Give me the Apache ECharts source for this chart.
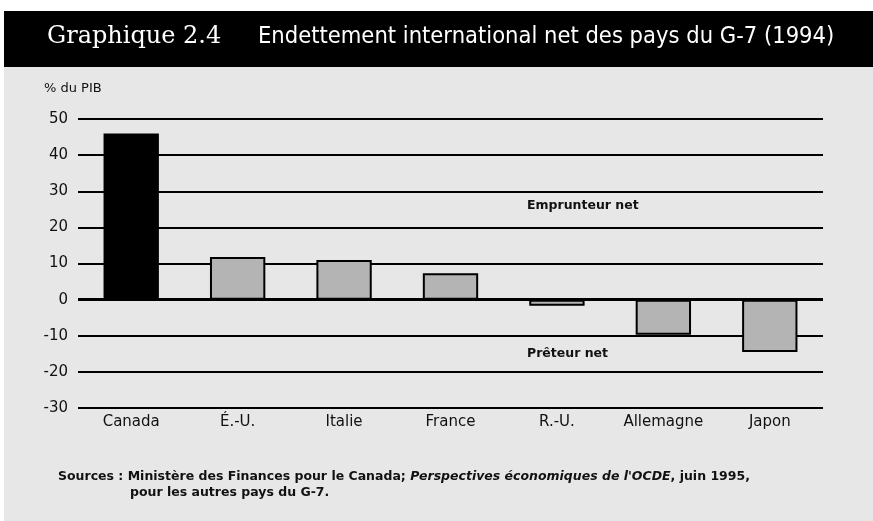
<!DOCTYPE html>
<html>
<head>
<meta charset="utf-8">
<script src="https://cdn.jsdelivr.net/npm/echarts@6/dist/echarts.min.js"></script>
<style>
  html, body { margin: 0; padding: 0; background: #fff; }
  #chart { width: 873px; height: 521px; }
</style>
</head>
<body>
<div id="chart"></div>
<script>
var pays = ['Canada', 'É.-U.', 'Italie', 'France', 'R.-U.', 'Allemagne', 'Japon'];
var endettement = [46, 11.8, 11, 7.3, -1.7, -9.7, -14.5];
var yMin = -30, yMax = 50, yPas = 10;

var myChart = echarts.init(document.getElementById('chart'));

var barres = endettement.map(function (v, i) {
    return {
        value: v,
        itemStyle: { color: i === 0 ? '#000' : '#b4b4b4' }
    };
});

var petit = 'bold 12.5px "DejaVu Sans", sans-serif';

var option = {
    animation: false,
    backgroundColor: '#fff',
    graphic: [
        { type: 'rect', z: -10, shape: { x: 4, y: 11, width: 869, height: 510 }, style: { fill: '#e7e7e7' } },
        { type: 'rect', z: -5, shape: { x: 4, y: 11, width: 869, height: 56 }, style: { fill: '#000' } },
        { type: 'text', left: 47, top: 25, style: { text: 'Graphique 2.4', fill: '#fff', font: '24px "DejaVu Serif", serif' } },
        { type: 'text', left: 258, top: 25, style: { text: 'Endettement international net des pays du G-7 (1994)', fill: '#fff', font: '23.5px "DejaVu Sans Condensed", sans-serif' } },
        { type: 'text', left: 44, top: 82, style: { text: '% du PIB', fill: '#111', font: '13px "DejaVu Sans", sans-serif' } },
        { type: 'text', left: 527, top: 199, style: { text: 'Emprunteur net', fill: '#111', font: petit } },
        { type: 'text', left: 527, top: 347, style: { text: 'Prêteur net', fill: '#111', font: petit } },
        { type: 'text', left: 58, top: 470, style: {
            text: "{n|Sources : Ministère des Finances pour le Canada; }{i|Perspectives économiques de l'OCDE}{n|, juin 1995,}",
            rich: {
                n: { fill: '#111', font: petit },
                i: { fill: '#111', font: 'italic ' + petit }
            }
        } },
        { type: 'text', left: 130, top: 486, style: { text: 'pour les autres pays du G-7.', fill: '#111', font: petit } }
    ],
    grid: { left: 78, right: 50, top: 119, bottom: 113 },
    xAxis: {
        type: 'category',
        data: pays,
        position: 'bottom',
        axisLine: { show: false },
        axisTick: { show: false },
        axisLabel: {
            interval: 0,
            margin: 7,
            color: '#111',
            fontSize: 15,
            fontFamily: '"DejaVu Sans", sans-serif'
        }
    },
    yAxis: {
        type: 'value',
        min: yMin,
        max: yMax,
        interval: yPas,
        axisLine: { show: false },
        axisTick: { show: false },
        axisLabel: {
            margin: 10,
            color: '#111',
            fontSize: 15,
            fontFamily: '"DejaVu Sans", sans-serif'
        },
        splitLine: { lineStyle: { color: '#000', width: 2 } }
    },
    series: [{
        type: 'bar',
        data: barres,
        barWidth: '52%',
        itemStyle: { borderColor: '#000', borderWidth: 2 },
        markLine: {
            silent: true,
            symbol: 'none',
            label: { show: false },
            lineStyle: { color: '#000', width: 3, type: 'solid' },
            data: [{ yAxis: 0 }]
        }
    }]
};
myChart.setOption(option);
</script>
</body>
</html>
